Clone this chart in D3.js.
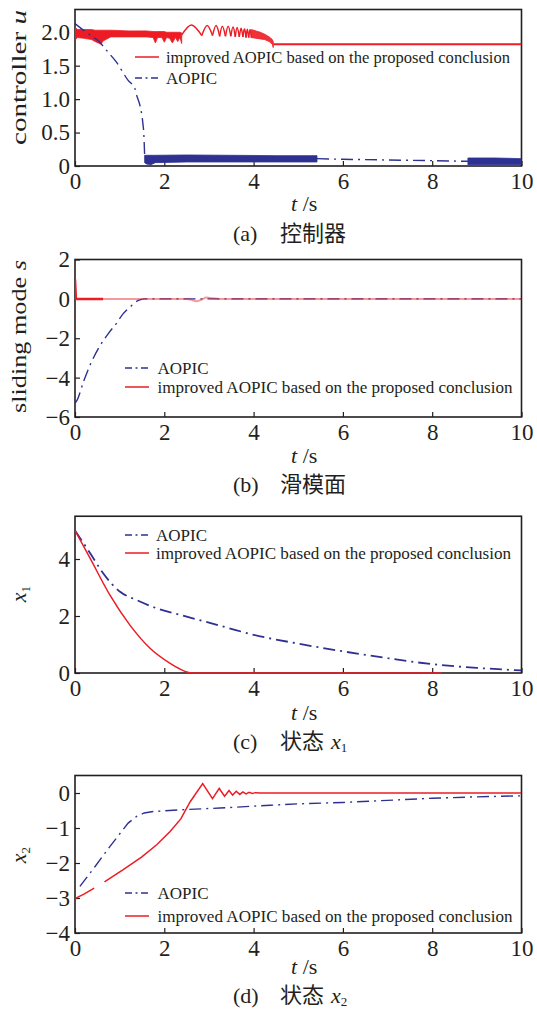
<!DOCTYPE html>
<html>
<head>
<meta charset="utf-8">
<script src="https://cdn.jsdelivr.net/npm/d3@7"></script>
<style>
body { margin: 0; background: #fff; }
svg { display: block; }
.tick line { stroke: #231f20; stroke-width: 1.2px; }
</style>
</head>
<body>
<svg width="537" height="1010"></svg>
<script>
const red = "#ed1c24",
    blue = "#2e3192",
    ink = "#231f20",
    serif = "Liberation Serif",
    dashDot = "12,5,2,5";

const xTicks = [0, 2, 4, 6, 8, 10];

// (a) controller u
const uRedBandT  = [0, 0.05, 0.2, 0.37, 0.45, 0.52, 0.58, 0.63, 0.8, 1.2, 1.6, 1.75, 1.8, 1.85, 1.95, 2.0, 2.05, 2.12, 2.18, 2.25, 2.3, 2.35, 2.39];
const uRedBandHi = [2.08, 2.04, 2.04, 2.04, 2.03, 2.03, 2.03, 2.03, 2.03, 2.02, 2.02, 2.01, 2.01, 2.01, 2.01, 2.01, 2.0, 2.0, 2.0, 2.0, 2.0, 2.0, 1.99];
const uRedBandLo = [1.88, 1.92, 1.91, 1.89, 1.86, 1.84, 1.82, 1.87, 1.93, 1.93, 1.93, 1.92, 1.84, 1.92, 1.92, 1.85, 1.92, 1.91, 1.84, 1.92, 1.86, 1.92, 1.83];
const uRedArcT     = [2.39, 2.84, 3.08, 3.24, 3.37, 3.49, 3.59, 3.68, 3.76, 3.83, 3.89, 3.95];
const uRedArcCusp  = [1.96, 1.95, 1.95, 1.94, 1.94, 1.94, 1.93, 1.93, 1.93, 1.92, 1.92, 1.92];
const uRedArcPeakT = [2.61, 2.96, 3.16, 3.30, 3.43, 3.54, 3.63, 3.72, 3.80, 3.86, 3.92];
const uRedArcPeak  = [2.11, 2.10, 2.10, 2.09, 2.09, 2.08, 2.07, 2.06, 2.05, 2.045, 2.04];
const uRedTailT  = [3.95, 4.05, 4.15, 4.25, 4.35, 4.42, 4.44];
const uRedTailHi = [2.04, 2.02, 2.0, 1.97, 1.93, 1.89, 1.86];
const uRedTailLo = [1.92, 1.91, 1.90, 1.89, 1.86, 1.82, 1.77];
const uRedFlat = [[4.44, 1.82], [10, 1.82]];
const uBlueDrop = [[0, 2.13], [0.25, 2.0], [0.54, 1.86], [0.73, 1.71], [0.92, 1.56], [1.19, 1.28], [1.34, 1.16],
    [1.38, 1.06], [1.46, 0.89], [1.52, 0.64], [1.54, 0.49], [1.55, 0.34], [1.56, 0.15]];
const uBlueBandT  = [1.56, 1.6, 1.7, 1.8, 2.5, 3.5, 4.5, 5.42];
const uBlueBandHi = [0.16, 0.16, 0.16, 0.16, 0.165, 0.16, 0.155, 0.155];
const uBlueBandLo = [0.05, 0.03, 0.02, 0.05, 0.06, 0.06, 0.06, 0.06];
const uBlueMid = [[5.42, 0.11], [6, 0.1], [7, 0.09], [8, 0.08], [8.8, 0.07]];
const uBlueBand2T  = [8.8, 9.4, 10];
const uBlueBand2Hi = [0.12, 0.12, 0.11];
const uBlueBand2Lo = [0.02, 0.02, 0.02];

// (b) sliding mode s
const sRedHead = [[0, 1.0], [0.02, 0], [0.63, 0]];
const sRed = [[0.02, 0], [2.5, 0], [2.62, -0.06], [2.72, -0.12], [2.82, -0.05], [2.95, 0.07], [3.08, 0.03], [3.25, 0], [10, 0]];
const sBlue = [[0, -5.3], [0.04, -5.17], [0.2, -4.15], [0.35, -3.3], [0.54, -2.46], [0.75, -1.75], [0.92, -1.27],
    [1.08, -0.75], [1.23, -0.42], [1.42, -0.08], [1.55, 0], [10, 0]];

// (c) x1
const x1Red = [[0, 5.0], [0.34, 4.02], [0.78, 2.74], [1.23, 1.68], [1.68, 0.87], [2.13, 0.34], [2.35, 0.14], [2.54, 0.02], [2.62, 0], [8.22, 0]];
const x1Blue = [[0, 5.0], [0.34, 4.2], [0.63, 3.5], [1.01, 2.85], [1.38, 2.56], [1.83, 2.27], [2.4, 2.02], [3, 1.77], [3.5, 1.55],
    [4, 1.34], [5, 1.03], [6, 0.76], [7, 0.52], [8, 0.31], [9, 0.18], [10, 0.09]];

// (d) x2
const x2RedA = [[0, -3.02], [0.2, -2.89], [0.43, -2.72]];
const x2RedB = [[0.66, -2.54], [1.08, -2.19], [1.49, -1.83], [1.83, -1.48], [2.13, -1.1], [2.37, -0.74], [2.58, -0.25], [2.86, 0.27],
    [3.08, -0.16], [3.23, 0.13], [3.35, -0.09], [3.45, 0.07], [3.53, -0.06], [3.61, 0.05], [3.69, -0.04], [3.76, 0.03],
    [3.83, -0.025], [3.9, 0.02], [3.97, -0.015], [4.04, 0.01], [4.15, 0], [10, 0]];
const x2Blue = [[0.11, -2.67], [0.45, -2.1], [0.78, -1.53], [1.19, -0.86], [1.38, -0.67], [1.55, -0.57], [1.75, -0.53], [2.35, -0.48],
    [3.25, -0.43], [4.37, -0.35], [5, -0.31], [6, -0.27], [7, -0.21], [8, -0.15], [9, -0.11], [10, -0.08]];

const legendLabel = "improved AOPIC based on the proposed conclusion";

let svg = d3.select("svg")
    .attr("font-family", serif)
    .attr("fill", ink);
let x = d3.scaleLinear().domain([0, 10]).range([75, 521.5]);

const zip = (T, hi, lo) => T.map((t, i) => ({t: t, hi: hi[i], lo: lo[i]}));

function styleTicks(a) {
    a.select(".domain").remove();
    a.attr("font-size", null).attr("font-family", null);
    a.selectAll("text")
        .attr("font-family", serif)
        .attr("font-size", "23px")
        .attr("fill", ink);
}

function makePanel(id, top, bottom, domain, ticks, fmt) {
    let y = d3.scaleLinear().domain(domain).range([bottom, top]);
    let g = svg.append("g");

    g.append("clipPath").attr("id", "clip-" + id)
        .append("rect")
        .attr("x", x.range()[0])
        .attr("y", top - 2)
        .attr("width", x.range()[1] - x.range()[0])
        .attr("height", bottom - top + 4);

    g.append("g")
        .attr("transform", "translate(0," + bottom + ")")
        .call(d3.axisBottom(x).tickValues(xTicks).tickSizeInner(-5).tickSizeOuter(0).tickPadding(7))
        .call(styleTicks);
    g.append("g")
        .attr("transform", "translate(" + x.range()[0] + ",0)")
        .call(d3.axisLeft(y).tickValues(ticks).tickFormat(fmt).tickSizeInner(-5).tickSizeOuter(0).tickPadding(5))
        .call(styleTicks);

    g.append("rect")
        .attr("x", x.range()[0]).attr("y", top)
        .attr("width", x.range()[1] - x.range()[0])
        .attr("height", bottom - top)
        .attr("fill", "none")
        .attr("stroke", ink)
        .attr("stroke-width", 1.6);

    let plot = g.append("g").attr("clip-path", "url(#clip-" + id + ")");
    return {g: g, plot: plot, y: y};
}

function drawLine(p, data, color, dash, width, curve) {
    return p.plot.append("path")
        .datum(data)
        .attr("fill", "none")
        .attr("stroke", color)
        .attr("stroke-width", width)
        .attr("stroke-dasharray", dash)
        .attr("d", d3.line().curve(curve || d3.curveLinear).x(d => x(d[0])).y(d => p.y(d[1])));
}

function drawBand(p, rows, color, opacity) {
    return p.plot.append("path")
        .datum(rows)
        .attr("fill", color)
        .attr("fill-opacity", opacity)
        .attr("stroke", color)
        .attr("stroke-width", 0.8)
        .attr("d", d3.area().x(d => x(d.t)).y0(d => p.y(d.lo)).y1(d => p.y(d.hi)));
}

function legendRow(p, x1, x2, tx, cy, color, dash, label, len) {
    p.g.append("line")
        .attr("x1", x1).attr("x2", x2)
        .attr("y1", cy).attr("y2", cy)
        .attr("stroke", color)
        .attr("stroke-width", 1.5)
        .attr("stroke-dasharray", dash);
    let t = p.g.append("text")
        .attr("x", tx)
        .attr("y", cy + 5.5)
        .attr("font-family", serif)
        .attr("font-size", "17px")
        .text(label);
    if (len) t.attr("textLength", len).attr("lengthAdjust", "spacingAndGlyphs");
}

function yLabel(cy, len, parts) {
    let t = svg.append("text")
        .attr("transform", "translate(26," + cy + ") rotate(-90)")
        .attr("text-anchor", "middle")
        .attr("font-family", serif)
        .attr("font-size", "22px");
    parts.forEach(q => {
        let s = t.append("tspan").text(q.text);
        if (q.italic) s.attr("font-style", "italic");
        if (q.sub) s.attr("font-size", "13px").attr("dy", 4);
    });
    if (len) t.attr("textLength", len).attr("lengthAdjust", "spacingAndGlyphs");
}

function xLabel(base) {
    svg.append("text")
        .attr("x", 291)
        .attr("y", base)
        .attr("font-family", serif)
        .attr("font-size", "22px")
        .html('<tspan font-style="italic">t</tspan> /s');
}

function caption(base, tag, cjk, sub) {
    let t = svg.append("text")
        .attr("y", base)
        .attr("font-family", serif)
        .attr("font-size", "22px");
    t.append("tspan").attr("x", 233).text(tag);
    t.append("tspan").attr("x", 280).attr("font-family", "Noto Sans CJK SC").text(cjk);
    if (sub) {
        t.append("tspan").attr("x", 331).attr("font-style", "italic").text("x");
        t.append("tspan").attr("font-size", "13px").attr("dy", 3).text(sub);
    }
}

const fmtA = d => d === 0 ? "0" : d3.format(".1f")(d);
const fmtN = d3.format("d");

// ---- (a) controller
let pa = makePanel("a", 9.5, 166, [0, 2.34], [0, 0.5, 1, 1.5, 2], fmtA);
drawBand(pa, zip(uRedBandT, uRedBandHi, uRedBandLo), red, 1);
uRedArcPeak.forEach((pk, i) => {
    drawLine(pa, [[uRedArcT[i], uRedArcCusp[i]], [uRedArcPeakT[i], pk], [uRedArcT[i + 1], uRedArcCusp[i + 1]]],
        red, null, 1.5, d3.curveNatural);
});
drawBand(pa, zip(uRedTailT, uRedTailHi, uRedTailLo), red, 0.9);
drawLine(pa, uRedFlat, red, null, 2);
drawLine(pa, uBlueDrop, blue, dashDot, 1.4, d3.curveMonotoneX);
drawBand(pa, zip(uBlueBandT, uBlueBandHi, uBlueBandLo), blue, 1);
drawLine(pa, uBlueMid, blue, dashDot, 1.4);
drawBand(pa, zip(uBlueBand2T, uBlueBand2Hi, uBlueBand2Lo), blue, 1);
legendRow(pa, 135, 159, 166, 57, red, null, legendLabel, 344);
legendRow(pa, 135, 159, 166, 78, blue, "7,3.5,2,3.5", "AOPIC");
yLabel(77.5, 135, [{text: "controller "}, {text: "u", italic: true}]);
xLabel(211);
caption(241, "(a)", "控制器");

// ---- (b) sliding mode
let pb = makePanel("b", 259.5, 417, [-6, 2], [-6, -4, -2, 0, 2], fmtN);
drawLine(pb, sBlue, blue, dashDot, 1.4, d3.curveMonotoneX);
drawLine(pb, sRed, red, null, 2, d3.curveMonotoneX).attr("stroke-opacity", 0.45);
drawLine(pb, sRedHead, red, null, 2.5);
legendRow(pb, 125, 149, 157.5, 368, blue, "7,3.5,2,3.5", "AOPIC");
legendRow(pb, 125, 149, 157.5, 387, red, null, legendLabel, 355);
yLabel(336.5, 153, [{text: "sliding mode "}, {text: "s", italic: true}]);
xLabel(463);
caption(492, "(b)", "滑模面");

// ---- (c) x1
let pc = makePanel("c", 516.25, 673, [0, 5.5], [0, 2, 4], fmtN);
drawLine(pc, x1Blue, blue, dashDot, 1.8, d3.curveMonotoneX);
drawLine(pc, x1Red, red, null, 1.5, d3.curveMonotoneX);
legendRow(pc, 125, 149, 156, 535, blue, "7,3.5,2,3.5", "AOPIC");
legendRow(pc, 125, 149, 156, 553, red, null, legendLabel, 355);
yLabel(594, null, [{text: "x", italic: true}, {text: "1", sub: true}]);
xLabel(720);
caption(749, "(c)", "状态", "1");

// ---- (d) x2
let pd = makePanel("d", 775.5, 933, [-4, 0.5], [-4, -3, -2, -1, 0], fmtN);
drawLine(pd, x2Blue, blue, dashDot, 1.4);
drawLine(pd, x2RedA, red, null, 1.5);
drawLine(pd, x2RedB, red, null, 1.5);
legendRow(pd, 125, 149, 157.5, 893, blue, "7,3.5,2,3.5", "AOPIC");
legendRow(pd, 125, 149, 157.5, 916, red, null, legendLabel, 355);
yLabel(855, null, [{text: "x", italic: true}, {text: "2", sub: true}]);
xLabel(974);
caption(1003, "(d)", "状态", "2");
</script>
</body>
</html>
